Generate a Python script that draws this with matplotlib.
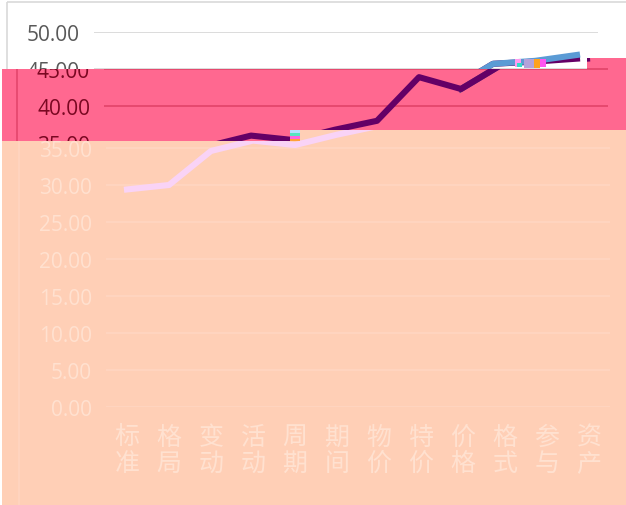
import matplotlib
matplotlib.use('Agg')
import matplotlib.pyplot as plt
from matplotlib.patches import Polygon, Rectangle
from matplotlib.transforms import Affine2D, Bbox, TransformedBbox
import numpy as np

# data
categories = ['标准', '格局', '变动', '活动', '周期', '期间',
              '物价', '特价', '价格', '格式', '参与', '资产']
purple_vals = [29.4, 30.0, 34.6, 36.0, 35.4, 36.8, 38.0, 43.9, 42.3, 45.7, 46.0, 46.4]
blue_vals = [np.nan] * 8 + [42.3, 45.7, 46.1, 46.9]
yticks = np.arange(0, 51, 5)

W, H = 626, 506
fig = plt.figure(figsize=(W / 100, H / 100), dpi=100, facecolor='white')
# image pixel coords (origin top-left) -> figure
px = Affine2D().scale(1 / W, -1 / H).translate(0, 1) + fig.transFigure


def box(x0, y0, x1, y1):
    return TransformedBbox(Bbox.from_extents(x0 / W, 1 - y1 / H, x1 / W, 1 - y0 / H),
                           fig.transFigure)


def region(pts, color):
    p = Polygon(pts, closed=True, transform=px, facecolor=color,
                edgecolor='none', zorder=-1)
    fig.add_artist(p)
    return p


white_reg = region([(0, 0), (626, 0), (626, 59), (587, 59), (587, 70), (2, 70),
                    (2, 506), (0, 506)], 'white')
pink_reg = region([(2, 70), (587, 70), (587, 59), (626, 59), (626, 131), (290, 131),
                   (290, 142), (2, 142)], '#FF6890')
peach_reg = region([(2, 142), (290, 142), (290, 131), (626, 131), (626, 506),
                    (2, 506)], '#FFCFB6')


def layer(dx, dy, clip, tbox, c, blue_on_top, show_y, show_x):
    ax = fig.add_axes([(94 + dx) / W, 1 - (403 + dy) / H, 504 / W, 370 / H])
    ax.patch.set_visible(False)
    for s in ax.spines.values():
        s.set_visible(False)
    x = np.arange(len(categories))
    lp, = ax.plot(x, purple_vals, color=c['purple'], lw=4.4, zorder=3)
    lb, = ax.plot(x, blue_vals, color=c['blue'], lw=4.4, zorder=4 if blue_on_top else 2)
    ax.set_xlim(-0.5, 11.5)
    ax.set_ylim(0, 50)
    ax.set_yticks(yticks)
    ax.set_yticklabels([f'{v:.2f}' if v in show_y else '' for v in yticks],
                       fontfamily=['Open Sans', 'DejaVu Sans'])
    ax.set_xticks(x)
    ax.set_xticklabels(['\n'.join(s) if show_x else '' for s in categories], linespacing=1.0,
                       fontfamily=['Noto Sans CJK SC', 'DejaVu Sans'])
    ax.tick_params(length=0)
    ax.tick_params(axis='y', pad=10, labelsize=15, labelcolor=c['text'])
    ax.tick_params(axis='x', pad=12, labelsize=18, labelcolor=c['text'])
    ax.grid(axis='y', color=c['grid'], lw=1.3)
    ax.set_axisbelow(True)
    for tick in ax.yaxis.get_major_ticks() + ax.xaxis.get_major_ticks():
        tick.gridline.set_clip_path(clip)
        tick.label1.set_clip_box(tbox)
    lp.set_clip_path(clip)
    lb.set_clip_path(clip)
    border = Rectangle((7 + dx, 3 + dy), 700, 600, transform=px, fill=False,
                       edgecolor=c['grid'], lw=1.2, zorder=1)
    fig.add_artist(border)
    border.set_clip_path(clip)


layer(0, 0, white_reg, box(0, 0, 626, 70),
      dict(text='#595959', grid='#D9D9D9', purple='#640066', blue='#5B9BD5'), True,
      [50, 45], False)
layer(10, 0, pink_reg, box(2, 70, 626, 142),
      dict(text='#7A0822', grid='#E4466C', purple='#640066', blue='#5C4078'), False,
      [45, 40, 35], False)
layer(12, 5, peach_reg, box(2, 142, 626, 506),
      dict(text='#FFE1D0', grid='#FFD5C0', purple='#F9D3F6', blue='#F9D3F6'), False,
      [35, 30, 25, 20, 15, 10, 5, 0], True)

# small glitch blocks
glitch = [(515, 60, 6, 8, '#FF9BF0'), (517, 64, 5, 4, '#35DCC8'), (524, 60, 10, 9, '#B4A2DA'),
          (534, 60, 6, 9, '#FFA21C'), (540, 60, 6, 8, '#FF55F0'),
          (290, 131, 10, 3, '#B8E0FF'), (290, 134, 10, 3, '#55E6C0'),
          (290, 137, 10, 3, '#FF66E0'), (290, 140, 10, 2, '#FFA03A')]
for gx, gy, gw, gh, gc in glitch:
    fig.add_artist(Rectangle((gx, gy), gw, gh, transform=px, facecolor=gc,
                             edgecolor='none', zorder=10))

fig.savefig('out.png', dpi=100, facecolor='white')
